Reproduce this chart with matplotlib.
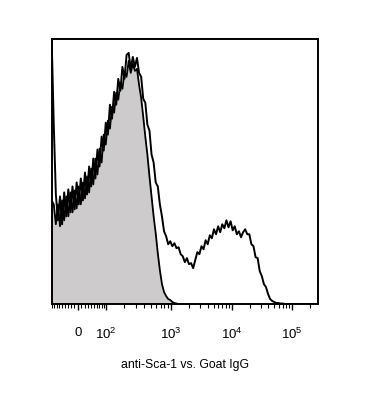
import numpy as np
import matplotlib
matplotlib.use("Agg")
import matplotlib.pyplot as plt

plt.rcParams['font.family'] = ['Liberation Sans', 'DejaVu Sans']
plt.rcParams['mathtext.fontset'] = 'custom'
plt.rcParams['mathtext.rm'] = 'Liberation Sans'

# display channels (0-1024) of the histogram bins
kanaal = np.arange(0, 1024, 8)

# anti-Sca-1 (open black line), counts per channel
sca1 = [265, 180, 110, 84, 108, 80, 112, 88, 115, 92, 118, 95, 122, 100, 126, 104,
        132, 110, 138, 118, 146, 126, 155, 138, 168, 154, 182, 170, 200, 186, 213, 200,
        226, 214, 238, 226, 250, 252, 236, 248, 238, 247, 232, 228, 206, 202, 180, 174,
        150, 142, 122, 118, 100, 88, 73, 68, 60, 63, 58, 61, 56, 57, 50, 48,
        42, 46, 40, 41, 36, 44, 52, 50, 58, 55, 64, 60, 69, 66, 75, 70,
        78, 72, 80, 76, 84, 77, 83, 74, 78, 70, 73, 67, 72, 75, 70, 70,
        60, 58, 47, 46, 33, 28, 20, 17, 10, 5, 3, 2, 1, 1, 0.5, 0.5]
sca1 = sca1 + [0] * (len(kanaal) - len(sca1))

# Goat IgG control (grey filled)
igg = [104, 100, 80, 100, 78, 104, 84, 108, 88, 112, 92, 114, 96, 118, 100, 122,
       106, 128, 112, 136, 120, 146, 130, 156, 142, 170, 160, 184, 176, 198, 192, 212,
       205, 222, 216, 233, 228, 244, 232, 241, 234, 236, 220, 207, 188, 168, 150, 128,
       108, 88, 71, 51, 34, 20, 12, 8, 5, 4, 2, 1, 0.5, 0, 0, 0]
kanaal_igg = kanaal[:len(igg)]

# tick values and where they fall on the channel scale
def naar_kanaal(v):
    w = 70.0
    kv = np.arcsinh(np.array([-100, 0, 100, 1e3, 1e4, 1e5, 1e6]) / w)
    kc = np.array([-7, 101, 209, 459, 693, 924, 1155])
    return np.interp(np.arcsinh(np.asarray(v, dtype=float) / w), kv, kc)

hoofd = [0, 1e2, 1e3, 1e4, 1e5]
hoofd_labels = ['0', r'$\mathregular{10^{2}}$', r'$\mathregular{10^{3}}$',
                r'$\mathregular{10^{4}}$', r'$\mathregular{10^{5}}$']
klein = list(range(-90, 0, 10)) + list(range(10, 100, 10))
for dec in [1e2, 1e3, 1e4, 1e5]:
    klein += [m * dec for m in range(2, 10)]

fig = plt.figure(figsize=(3.7, 3.99), dpi=100)
ax = fig.add_axes([0.1397, 0.2381, 0.7197, 0.6642])

ax.fill_between(kanaal_igg, igg, 0, color='#cdcbcc', lw=0)
ax.plot(kanaal_igg, igg, color='black', lw=1.3)
ax.plot(kanaal, sca1, color='black', lw=1.4)

ax.set_xlim(0, 1024)
ax.set_ylim(0, 266)
ax.set_yticks([])
ax.set_xticks(naar_kanaal(hoofd))
ax.set_xticklabels(hoofd_labels)
k = naar_kanaal(klein)
ax.set_xticks(k[(k > 0) & (k < 1024)], minor=True)
ax.tick_params(axis='x', which='major', length=4.5, width=1, pad=12, labelsize=9.5)
ax.tick_params(axis='x', which='minor', length=3, width=0.8)
for s in ax.spines.values():
    s.set_linewidth(1.4)

ax.set_xlabel('anti-Sca-1 vs. Goat IgG', fontsize=8.8, labelpad=12)

fig.savefig('out.png', dpi=100)
